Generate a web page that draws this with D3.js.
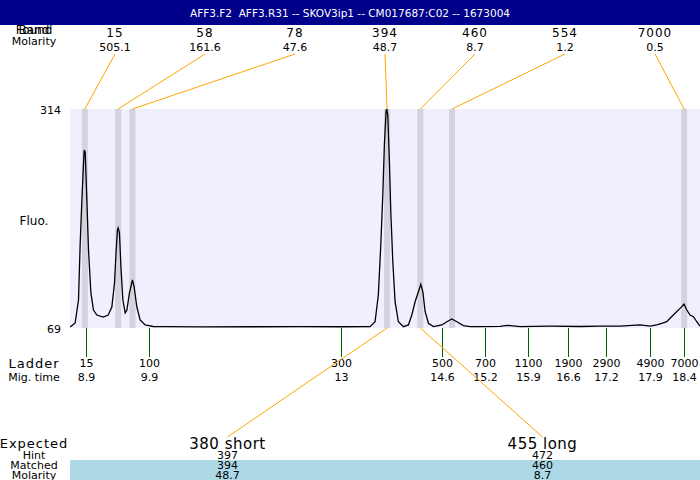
<!DOCTYPE html>
<html lang="en">
<head>
  <meta charset="UTF-8">
  <title>AFF3.F2 AFF3.R31 -- SKOV3ip1</title>
  <script src="https://d3js.org/d3.v7.min.js"></script>
  <style>
    body { margin: 0; background: #fff; }
    text { font-family: "DejaVu Sans", Verdana, sans-serif; fill: #000; }
    .trace { stroke: #000; stroke-width: 1.3; fill: none; }
    .lead { stroke: #ffa500; stroke-width: 1; }
    .ladder { stroke: #006400; stroke-width: 1; }
  </style>
</head>
<body>
  <svg id="chart" width="700" height="480"></svg>

  <script>
    const title = "AFF3.F2  AFF3.R31 -- SKOV3ip1 -- CM017687:C02 -- 1673004";

    // electropherogram trace (migration time in min, fluorescence)
    const traceTime = [8.653, 8.732, 8.785, 8.812, 8.839, 8.860, 8.875, 8.891, 8.918, 8.944, 8.982, 9.023, 9.077,
      9.177, 9.257, 9.315, 9.357, 9.384, 9.404, 9.415, 9.436, 9.459, 9.490, 9.527, 9.554, 9.595, 9.642, 9.669,
      9.712, 9.764, 9.844, 9.971, 10.162, 10.718, 11.513, 12.31, 12.95, 13.417, 13.497, 13.549, 13.588, 13.620,
      13.645, 13.672, 13.683, 13.699, 13.725, 13.747, 13.779, 13.815, 13.868, 13.947, 14.027, 14.081, 14.133,
      14.186, 14.224, 14.256, 14.293, 14.345, 14.425, 14.558, 14.638, 14.717, 14.796, 14.901, 15.008, 15.166,
      15.484, 15.595, 15.802, 16.279, 16.755, 17.073, 17.39, 17.708, 17.867, 17.973, 18.053, 18.132, 18.184,
      18.264, 18.343, 18.407, 18.450, 18.502, 18.555, 18.609, 18.661];
    const traceFluo = [70.1, 74.6, 100.3, 164.1, 212.2, 245.8, 268.2, 265.9, 212.2, 156.3, 108.2, 89.1, 83.5,
      81.3, 83.5, 92.5, 119.3, 156.3, 178.6, 180.9, 175.3, 137.2, 100.3, 85.8, 89.1, 108.2, 122.7, 114.9,
      92.5, 78.0, 72.4, 70.7, 70.5, 70.3, 70.4, 70.5, 70.4, 70.5, 76.0, 105.9, 161.9, 217.8,
      273.7, 311.0, 314.0, 307.3, 255.0, 199.1, 143.2, 98.4, 76.0, 70.5, 72.4, 83.5, 98.4,
      109.6, 117.9, 109.6, 87.2, 74.3, 70.5, 72.4, 76.0, 79.1, 76.0, 71.6, 70.5, 70.6,
      70.9, 72.0, 70.6, 71.0, 70.7, 71.2, 71.2, 72.4, 71.2, 72.4, 74.3, 76.0, 79.9,
      85.4, 91.0, 95.8, 89.1, 83.5, 81.6, 76.0, 71.2];

    // called peaks
    const peakSize = [15, 58, 78, 394, 460, 554, 7000];
    const peakMolarity = [505.1, 161.6, 47.6, 48.7, 8.7, 1.2, 0.5];
    const peakTime = [8.886, 9.415, 9.642, 13.688, 14.217, 14.72, 18.408];

    // ladder
    const ladderSize = [15, 100, 300, 500, 700, 1100, 1900, 2900, 4900, 7000];
    const ladderTime = [8.9, 9.9, 12.96, 14.56, 15.24, 15.92, 16.57, 17.16, 17.86, 18.41];

    // expected products
    const expectedLabel = ["380 short", "455 long"];
    const expectedHint = [397, 472];
    const matchedSize = [394, 460];
    const matchedMolarity = [48.7, 8.7];

    const fluoTicks = [69, 314];
    const timeRange = [8.65, 18.66];

    const svg = d3.select("#chart");
    const width = +svg.attr("width");
    const height = +svg.attr("height");
    const plot = {left: 70, right: width, top: 109, bottom: 328};

    const x = d3.scaleLinear().domain(timeRange).range([plot.left, plot.right]);
    const y = d3.scaleLinear().domain(fluoTicks).range([plot.bottom, plot.top]);
    const slot = (i, n) => plot.left + (plot.right - plot.left) * (i + 0.5) / n;
    const fmt = v => String(+v.toFixed(1));

    // left labels
    const leftLabel = (txt, yy, size, ls) => svg.append("text")
      .attr("x", 34).attr("y", yy).attr("text-anchor", "middle").attr("dy", "0.35em")
      .style("font-size", size + "px").style("letter-spacing", (ls || 0) + "px").text(txt);

    leftLabel("Found", 30, 12);
    leftLabel("Band", 30, 12);
    leftLabel("Molarity", 41, 11);
    leftLabel("Fluo.", 221, 12);
    leftLabel("Ladder", 363, 13, 1);
    leftLabel("Mig. time", 377, 11);
    leftLabel("Expected", 443, 13, 1);
    leftLabel("Hint", 455, 11);
    leftLabel("Matched", 465, 11);
    leftLabel("Molarity", 475, 11);

    // header drawn over the top labels
    svg.append("rect").attr("x", 0).attr("y", 0).attr("width", width).attr("height", 25).attr("fill", "#00008b");
    svg.append("text")
      .attr("x", width / 2).attr("y", 13).attr("dy", "0.35em").attr("text-anchor", "middle")
      .style("font-size", "10.5px").style("fill", "#fff").style("white-space", "pre")
      .text(title);

    // plot background
    svg.append("rect")
      .attr("x", plot.left).attr("y", plot.top)
      .attr("width", plot.right - plot.left).attr("height", plot.bottom - plot.top)
      .attr("fill", "#efeffd");

    // peak bands
    svg.selectAll(".band").data(peakTime).join("rect")
      .attr("class", "band")
      .attr("x", d => x(d) - 3).attr("y", plot.top)
      .attr("width", 6).attr("height", plot.bottom - plot.top)
      .attr("fill", "#d3d3e0");

    // trace
    const line = d3.line().x(d => x(d[0])).y(d => y(d[1]));
    svg.append("path")
      .datum(d3.zip(traceTime, traceFluo))
      .attr("class", "trace")
      .attr("d", line);

    // y labels
    fluoTicks.forEach(v => {
      svg.append("text")
        .attr("x", 61).attr("y", y(v) + 1).attr("dy", "0.35em").attr("text-anchor", "end")
        .style("font-size", "11px").text(v);
    });

    // peak labels and leaders
    const n = peakSize.length;
    peakSize.forEach((s, i) => {
      const cx = slot(i, n);
      svg.append("text").attr("x", cx).attr("y", 33).attr("dy", "0.35em").attr("text-anchor", "middle")
        .style("font-size", "12px").style("letter-spacing", "1px").text(s);
      svg.append("text").attr("x", cx).attr("y", 47).attr("dy", "0.35em").attr("text-anchor", "middle")
        .style("font-size", "11px").text(peakMolarity[i]);
      svg.append("line").attr("class", "lead")
        .attr("x1", cx).attr("y1", 54).attr("x2", x(peakTime[i])).attr("y2", plot.top);
    });

    // ladder
    ladderSize.forEach((s, i) => {
      const lx = Math.round(x(ladderTime[i])) + 0.5;
      svg.append("line").attr("class", "ladder")
        .attr("x1", lx).attr("x2", lx).attr("y1", plot.bottom).attr("y2", 357);
      svg.append("text").attr("x", lx).attr("y", 363).attr("dy", "0.35em").attr("text-anchor", "middle")
        .style("font-size", "11px").text(s);
      svg.append("text").attr("x", lx).attr("y", 377).attr("dy", "0.35em").attr("text-anchor", "middle")
        .style("font-size", "11px").text(fmt(ladderTime[i]));
    });

    // matched band
    svg.append("rect")
      .attr("x", plot.left).attr("y", 460).attr("width", plot.right - plot.left).attr("height", 20)
      .attr("fill", "#add8e6");

    // expected products
    const m = expectedLabel.length;
    expectedLabel.forEach((lab, i) => {
      const cx = slot(i, m);
      const pt = peakTime[peakSize.indexOf(matchedSize[i])];
      svg.append("line").attr("class", "lead")
        .attr("x1", cx).attr("y1", 437).attr("x2", x(pt)).attr("y2", plot.bottom);
      svg.append("text").attr("x", cx).attr("y", 444).attr("dy", "0.35em").attr("text-anchor", "middle")
        .style("font-size", "15px").style("letter-spacing", "0.5px").text(lab);
      svg.append("text").attr("x", cx).attr("y", 455).attr("dy", "0.35em").attr("text-anchor", "middle")
        .style("font-size", "11px").text(expectedHint[i]);
      svg.append("text").attr("x", cx).attr("y", 465).attr("dy", "0.35em").attr("text-anchor", "middle")
        .style("font-size", "11px").text(matchedSize[i]);
      svg.append("text").attr("x", cx).attr("y", 475).attr("dy", "0.35em").attr("text-anchor", "middle")
        .style("font-size", "11px").text(matchedMolarity[i]);
    });
  </script>
</body>
</html>
